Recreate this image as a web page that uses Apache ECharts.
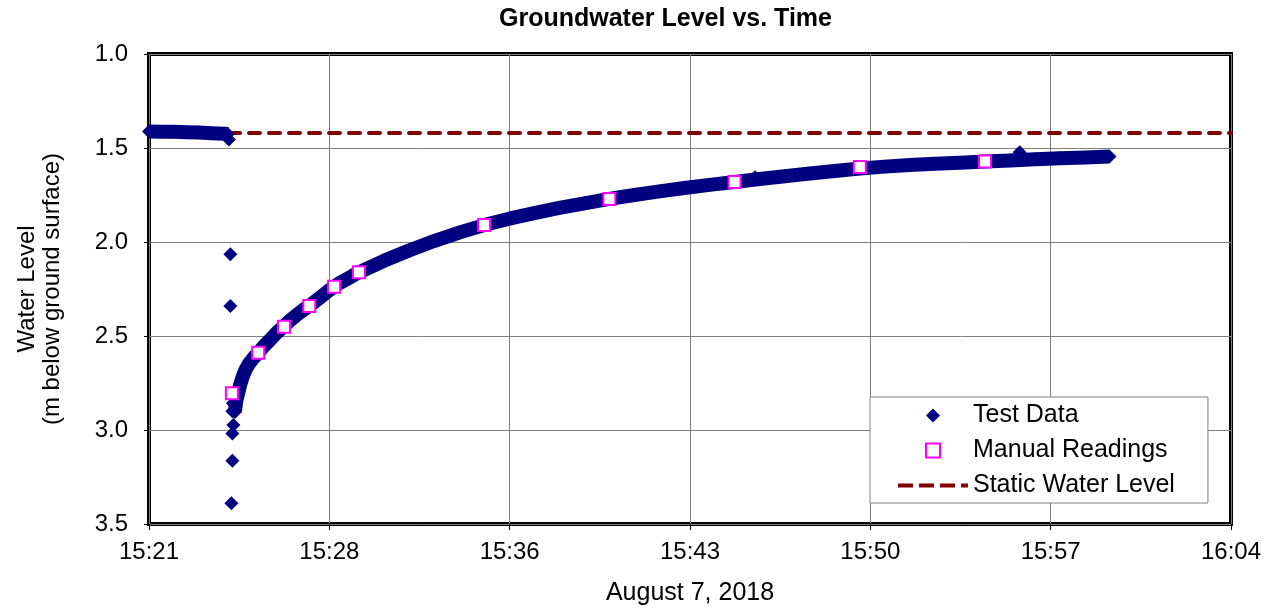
<!DOCTYPE html>
<html>
<head>
<meta charset="utf-8">
<title>Groundwater Level vs. Time</title>
<script src="https://cdn.jsdelivr.net/npm/echarts@6/dist/echarts.min.js"></script>
<style>
  html, body { margin: 0; padding: 0; background: #fff; }
  #chart { width: 1271px; height: 608px; }
</style>
</head>
<body>
<div id="chart"></div>
<script>
// Time is in minutes elapsed from the first axis tick (15:21); ticks every 7.2 min.
const tickLabels = ['15:21', '15:28', '15:36', '15:43', '15:50', '15:57', '16:04'];
const tickStep = 7.2;

// Logger record before the test (static level)
const preTime  = [0.0, 0.5, 1.0, 1.5, 2.0, 2.5, 3.0, 3.15];
const preLevel = [1.412, 1.413, 1.414, 1.416, 1.418, 1.421, 1.424, 1.426];

// Scattered logger readings while the water was being removed
const dropTime  = [3.19, 3.25, 3.25, 3.35, 3.33, 3.37, 3.33, 3.33, 3.29];
const dropLevel = [1.455, 2.065, 2.340, 2.858, 2.900, 2.973, 3.018, 3.163, 3.390];

// Logger record during recovery
const recoveryTime = [
  3.43, 3.49, 3.57, 3.65, 3.75, 3.87, 4.01, 4.17, 4.36, 4.59, 4.83, 5.09,
  5.36, 5.61, 5.87, 6.13, 6.40, 6.65, 6.91, 7.15, 7.39, 7.65, 7.91, 8.15,
  8.38, 9.38, 10.38, 11.38, 12.38, 13.38, 14.38, 15.38, 16.38, 17.38, 18.38,
  19.38, 20.38, 21.38, 22.38, 23.38, 24.38, 25.38, 26.38, 27.38, 28.38,
  29.38, 30.38, 31.38, 32.38, 33.38, 34.38, 35.38, 36.38, 37.38, 38.35
];
const recoveryLevel = [
  2.904, 2.840, 2.798, 2.755, 2.713, 2.676, 2.644, 2.617, 2.589, 2.553, 2.521, 2.484,
  2.451, 2.420, 2.391, 2.364, 2.340, 2.314, 2.287, 2.261, 2.238, 2.215, 2.197, 2.178,
  2.161, 2.100, 2.045, 1.995, 1.950, 1.910, 1.876, 1.846, 1.819, 1.794, 1.771,
  1.750, 1.731, 1.713, 1.696, 1.681, 1.665, 1.650, 1.636, 1.622, 1.609,
  1.599, 1.591, 1.584, 1.578, 1.572, 1.566, 1.560, 1.555, 1.550, 1.545
];

// Two stray logger readings during recovery
const strayTime  = [24.20, 34.76];
const strayLevel = [1.655, 1.523];

// Manual tape readings
const manualTime  = [3.31, 4.36, 5.39, 6.40, 7.39, 8.38, 13.38, 18.38, 23.38, 28.38, 33.38];
const manualLevel = [2.805, 2.589, 2.451, 2.340, 2.238, 2.161, 1.910, 1.771, 1.681, 1.601, 1.572];

const staticLevel = 1.42;
const xMin = 0, xMax = tickStep * (tickLabels.length - 1);

const GAP = '-';
const pairs = (xs, ys) => xs.map((x, i) => [x, ys[i]]);

// Test data drawn as one line series; '-' entries break the line so that
// the scattered readings appear as separate diamonds.
const testData = [];
testData.push(...pairs(preTime, preLevel));
dropTime.forEach((t, i) => { testData.push([t, GAP]); testData.push([t, dropLevel[i]]); });
testData.push([recoveryTime[0], GAP]);
testData.push(...pairs(recoveryTime, recoveryLevel));
strayTime.forEach((t, i) => { testData.push([t, GAP]); testData.push([t, strayLevel[i]]); });

const FONT = 'Liberation Sans, Arial, sans-serif';
const chart = echarts.init(document.getElementById('chart'), null, { renderer: 'canvas' });

chart.setOption({
  animation: false,
  backgroundColor: '#fff',
  textStyle: { fontFamily: FONT, color: '#000' },
  title: {
    text: 'Groundwater Level vs. Time',
    left: 499,
    top: 7,
    padding: 0,
    textStyle: { fontFamily: FONT, fontSize: 25, fontWeight: 'bold', color: '#000' }
  },
  grid: {
    left: 149, right: 40, top: 54, bottom: 84,
    show: true, borderColor: '#000', borderWidth: 4, backgroundColor: 'transparent',
    outerBoundsMode: 'none'
  },
  legend: {
    orient: 'vertical',
    left: 870, top: 397,
    padding: [6, 33, 5, 28],
    itemGap: 10,
    itemWidth: 70, itemHeight: 14,
    symbolKeepAspect: true,
    backgroundColor: '#fff',
    borderColor: '#808080', borderWidth: 1,
    textStyle: { fontFamily: FONT, fontSize: 25, color: '#000' },
    data: [
      { name: 'Test Data', icon: 'path://M7,0L14,7L7,14L0,7Z' },
      { name: 'Manual Readings', icon: 'path://M0,0h14v14h-14z' },
      { name: 'Static Water Level',
        icon: 'path://M0,0h15v4h-15z M21,0h15v4h-15z M42,0h15v4h-15z M63,0h7v4h-7z' }
    ]
  },
  xAxis: {
    type: 'value',
    min: xMin, max: xMax, interval: tickStep,
    name: 'August 7, 2018',
    nameLocation: 'middle', nameGap: 57,
    nameTextStyle: { fontFamily: FONT, fontSize: 25, color: '#000' },
    axisLine: { show: false },
    axisTick: { show: true, length: 6, lineStyle: { color: '#000', width: 1 } },
    axisLabel: {
      margin: 16, fontFamily: FONT, fontSize: 24, color: '#000',
      formatter: v => tickLabels[Math.round((v - xMin) / tickStep)] || ''
    },
    splitLine: { show: true, lineStyle: { color: '#808080', width: 1 } }
  },
  yAxis: {
    type: 'value',
    inverse: true,
    min: 1.0, max: 3.5, interval: 0.5,
    name: 'Water Level\n(m below ground surface)',
    nameLocation: 'middle', nameRotate: 90, nameGap: 84,
    nameTextStyle: { fontFamily: FONT, fontSize: 24, color: '#000', lineHeight: 25 },
    axisLine: { show: false },
    axisTick: { show: true, length: 5, lineStyle: { color: '#000', width: 1 } },
    axisLabel: {
      margin: 21, fontFamily: FONT, fontSize: 24, color: '#000',
      formatter: v => v.toFixed(1)
    },
    splitLine: { show: true, lineStyle: { color: '#808080', width: 1 } }
  },
  series: [
    {
      name: 'Static Water Level',
      type: 'line',
      data: [[xMin, staticLevel], [xMax, staticLevel]],
      symbol: 'none',
      color: '#800000',
      lineStyle: { color: '#800000', width: 4, type: [11, 9], cap: 'round' },
      z: 2,
      silent: true
    },
    {
      name: 'Test Data',
      type: 'line',
      data: testData,
      connectNulls: false,
      symbol: 'diamond',
      symbolSize: 14,
      showSymbol: true,
      color: '#000080',
      itemStyle: { color: '#000080' },
      lineStyle: { color: '#000080', width: 14, join: 'round', cap: 'butt' },
      z: 3,
      silent: true
    },
    {
      name: 'Manual Readings',
      type: 'scatter',
      data: pairs(manualTime, manualLevel),
      symbol: 'rect',
      symbolSize: 12,
      color: '#ff00ff',
      itemStyle: { color: '#ffffff', borderColor: '#ff00ff', borderWidth: 2, opacity: 1 },
      z: 4,
      silent: true
    }
  ]
});
</script>
</body>
</html>
